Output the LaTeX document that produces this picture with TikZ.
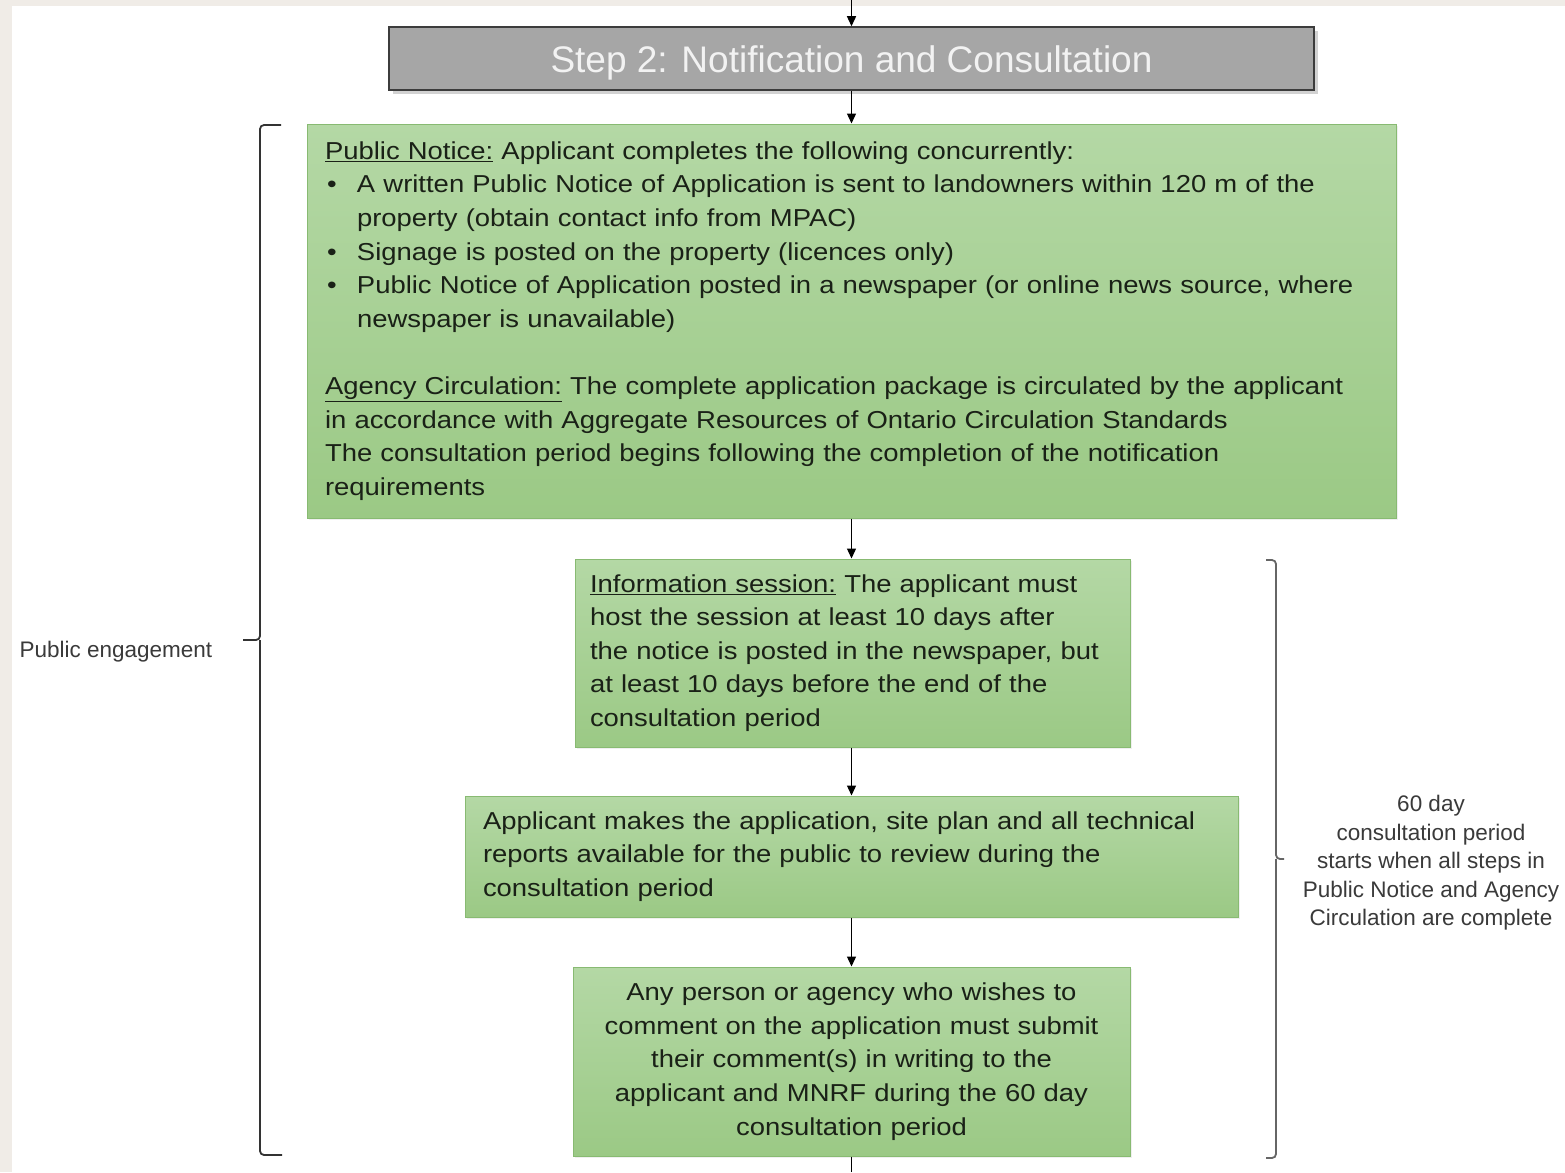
\documentclass[tikz,border=0pt]{standalone}
\usepackage{fontspec}
\setmainfont{Liberation Sans}
\newfontfamily\boxfont[FakeStretch=1.12]{Liberation Sans}
\usetikzlibrary{arrows.meta,shadows}
\definecolor{pagebg}{HTML}{F0ECE7}
\definecolor{gtop}{HTML}{B4D8A5}
\definecolor{gbot}{HTML}{9BC985}
\definecolor{gedge}{HTML}{88BA72}
\definecolor{titlefill}{HTML}{A6A6A6}
\definecolor{titleedge}{HTML}{3C3C3C}
\definecolor{boxtext}{HTML}{1A2117}
\definecolor{labeltext}{HTML}{3A3A3A}
\begin{document}
\begin{tikzpicture}[x=1pt,y=-1pt,
  greenbox/.style={draw=gedge, line width=1pt, top color=gtop, bottom color=gbot,
    text=boxtext, font=\boxfont\fontsize{24.5}{33.6}\selectfont, inner ysep=0pt,
    drop shadow={shadow xshift=2pt, shadow yshift=-2pt, opacity=0.12}},
  titlebox/.style={draw=titleedge, line width=1.5pt, fill=titlefill, text=white!95!black,
    font=\fontsize{37}{40}\selectfont, minimum width=925pt, minimum height=63pt,
    drop shadow={shadow xshift=4pt, shadow yshift=-4pt, opacity=0.35}},
  arr/.style={line width=1.3pt, -{Triangle[width=9pt,length=10pt]}},
  plainline/.style={line width=1.3pt},
  brace/.style={line width=1.8pt, rounded corners=4pt},
  sidelabel/.style={text=labeltext, font=\fontsize{22.5}{28.5}\selectfont, align=center}
]
\useasboundingbox (0,0) rectangle (1565,1172);
\fill[pagebg] (0,0) rectangle (1565,1172);
\fill[white] (12,6) rectangle (1565,1172);

\node[titlebox] (title) at (851.5,58.5) {\raisebox{-4pt}[\height][\depth]{Step 2: Notification and Consultation}};

\node[greenbox, minimum width=1089pt, minimum height=394pt, inner xsep=18pt,
  text width=1053pt, align=left] (pn) at (851.5,321) {%
\underline{Public Notice:} Applicant completes the following concurrently:\\
\makebox[32pt][l]{\hspace{2pt}\textbullet}A written Public Notice of Application is sent to landowners within 120 m of the\\
\hspace*{32pt}property (obtain contact info from MPAC)\\
\makebox[32pt][l]{\hspace{2pt}\textbullet}Signage is posted on the property (licences only)\\
\makebox[32pt][l]{\hspace{2pt}\textbullet}Public Notice of Application posted in a newspaper (or online news source, where\\
\hspace*{32pt}newspaper is unavailable)\\[33.6pt]
\underline{Agency Circulation:} The complete application package is circulated by the applicant\\
in accordance with Aggregate Resources of Ontario Circulation Standards\\
The consultation period begins following the completion of the notification\\
requirements};

\node[greenbox, minimum width=555pt, minimum height=188pt, inner xsep=15pt,
  text width=525pt, align=left] (info) at (852.5,653) {%
\underline{Information session:} The applicant must\\
host the session at least 10 days after\\
the notice is posted in the newspaper, but\\
at least 10 days before the end of the\\
consultation period};

\node[greenbox, minimum width=773pt, minimum height=121pt, inner xsep=18pt,
  text width=737pt, align=left] (avail) at (851.5,856.5) {%
Applicant makes the application, site plan and all technical\\
reports available for the public to review during the\\
consultation period};

\node[greenbox, minimum width=557pt, minimum height=189pt, inner xsep=15pt,
  text width=527pt, align=center] (comment) at (851.5,1061.5) {%
Any person or agency who wishes to\\
comment on the application must submit\\
their comment(s) in writing to the\\
applicant and MNRF during the 60 day\\
consultation period};

\coordinate (topin) at (851.5,0);
\coordinate (botout) at (851.5,1172);
\draw[arr] (topin) -- (title.north);
\draw[arr] (title.south) -- (pn.north);
\draw[arr] (pn.south) -- (pn.south |- info.north);
\draw[arr] (pn.south |- info.south) -- (avail.north);
\draw[arr] (avail.south) -- (comment.north);
\draw[plainline] (comment.south) -- (botout);

% left brace
\draw[brace, black!80] (281,125) -| (260,640) -- (243,640);
\draw[brace, black!80] (282,1155) -| (260,640);
\node[sidelabel, anchor=west] (pe) at (16,652) {Public engagement};

% right brace
\draw[brace, black!60] (1266,560) -| (1276,859) -- (1284,859);
\draw[brace, black!60] (1266,1158) -| (1276,859);
\node[sidelabel] (sixty) at (1431,863) {60 day\\consultation period\\starts when all steps in\\Public Notice and Agency\\Circulation are complete};
\end{tikzpicture}
\end{document}
